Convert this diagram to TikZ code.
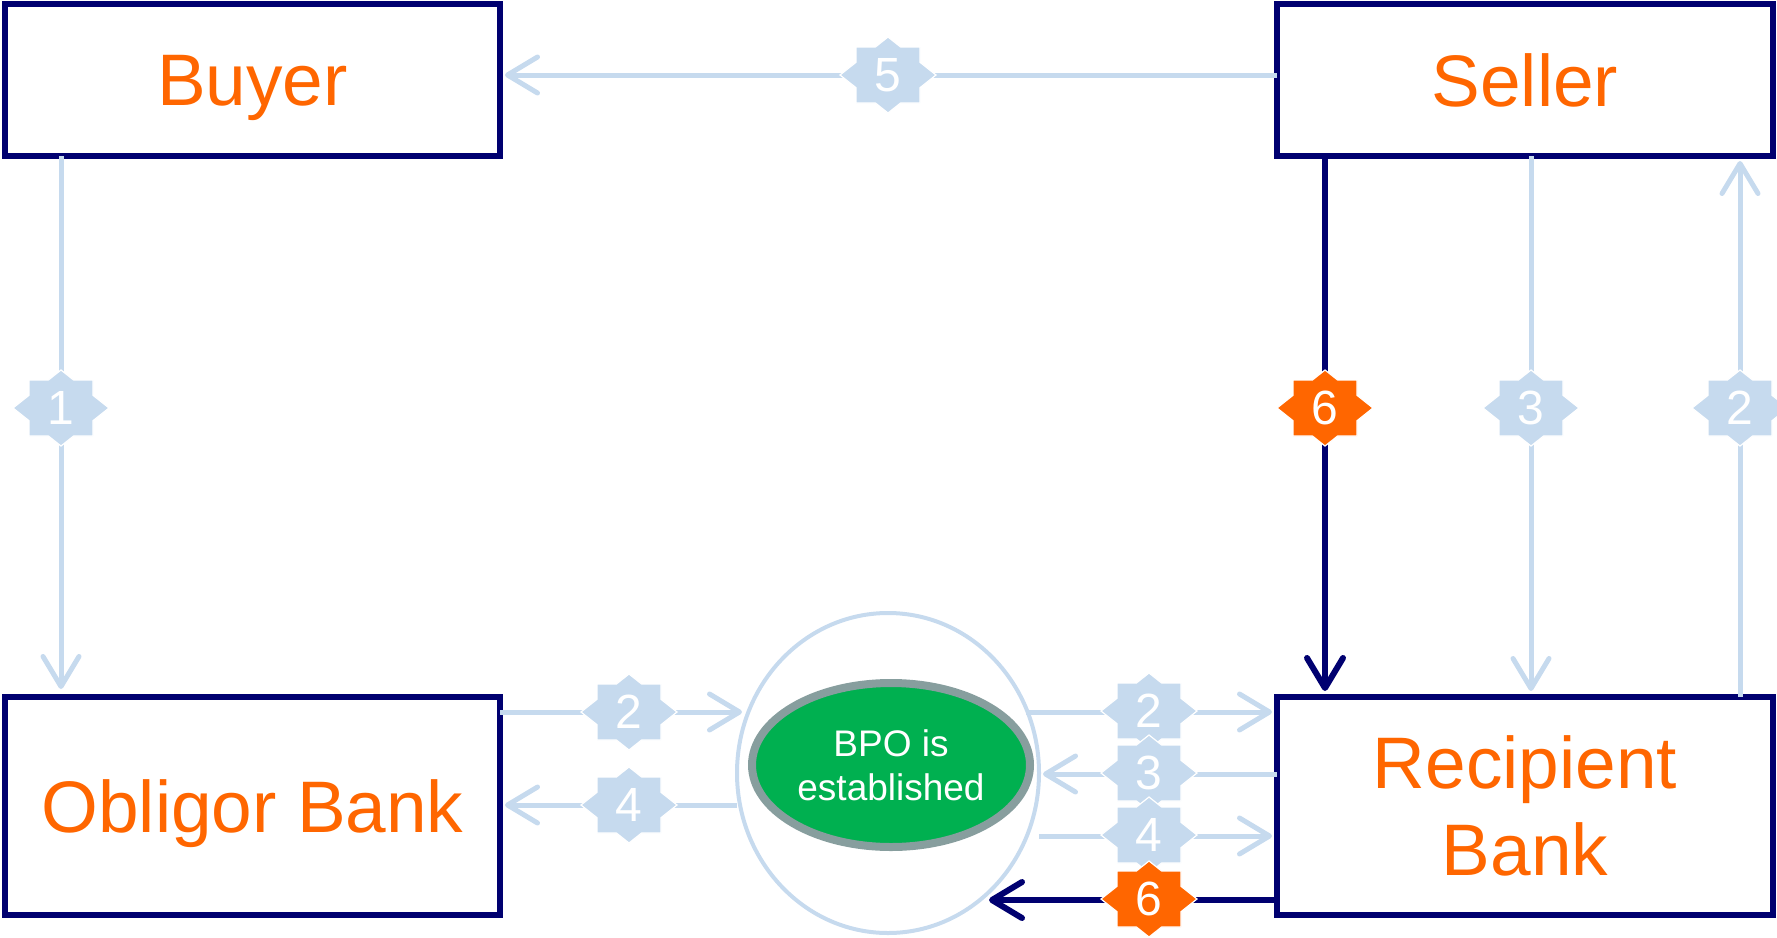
\documentclass[tikz,border=0pt]{standalone}
\usepackage{fontspec}
\setmainfont{Liberation Sans}
\usetikzlibrary{arrows.meta,shapes.geometric}
\definecolor{navy}{RGB}{0,0,112}
\definecolor{lblue}{RGB}{198,218,238}
\definecolor{orng}{RGB}{255,102,0}
\definecolor{bgreen}{RGB}{0,176,80}
\definecolor{ringgray}{RGB}{135,158,158}
\tikzset{
  box/.style={draw=navy, line width=5.5pt, rectangle, outer sep=0pt, inner sep=0pt,
    text=orng, font=\fontsize{73}{87}\selectfont, align=center, text depth=0pt},
  lb/.style={draw=lblue, line width=5pt},
  nv/.style={draw=navy, line width=6pt},
  tipend/.style={-{Straight Barb[length=30pt,width=36pt,round]}},
  badgetext/.style={text=white, font=\fontsize{48}{48}\selectfont, inner sep=0pt},
  starfill/.style={fill=#1, draw=white, line width=1.2pt},
}
\newcommand\mybadge[4]{%
  \path[starfill=#3, shift={(#2)}] (0,-38) -- (12.6,-28) -- (32,-28) -- (32,-12.7) -- (48,0)
    -- (32,12.7) -- (32,28) -- (12.6,28) -- (0,38) -- (-12.6,28) -- (-32,28) -- (-32,12.7)
    -- (-48,0) -- (-32,-12.7) -- (-32,-28) -- (-12.6,-28) -- cycle;
  \node[badgetext] (#1) at (#2) {#4};}
\begin{document}
\begin{tikzpicture}[x=1pt,y=-1pt]
\useasboundingbox (0,0) rectangle (1777,937);
% boxes
\node[box, minimum width=495pt, minimum height=152pt] (buyer) at (252.5,80) {Buyer};
\node[box, minimum width=496pt, minimum height=152pt] (seller) at (1525,80) {Seller};
\node[box, minimum width=495pt, minimum height=218pt] (obligor) at (252.5,806) {Obligor Bank};
\node[box, minimum width=496pt, minimum height=218pt] (recipient) at (1525,806) {Recipient\\Bank};
% ring and BPO
\node[ellipse, draw=lblue, line width=4pt, minimum width=302pt, minimum height=320pt, inner sep=0pt, outer sep=0pt] (ring) at (888,773) {};
\node[ellipse, fill=bgreen, draw=ringgray, line width=8pt, minimum width=278pt, minimum height=164pt, inner sep=0pt,
  text=white, font=\fontsize{37}{44}\selectfont, align=center] (bpo) at (891,765) {BPO is\\established};
% coordinates on the ring
\coordinate (r2in) at (742,712);
\coordinate (r4out) at (737,805);
\coordinate (r2out) at (1026,712);
\coordinate (r3in) at (1043,774);
\coordinate (r4out2) at (1039,836);
\coordinate (r6in) at (989,900);
% connectors
\draw[lb, tipend, shorten >=8pt] (61,0 |- buyer.south) -- (61,0 |- obligor.north);
\draw[lb, tipend, shorten >=5pt] (seller.west |- 0,75) -- (buyer.east |- 0,75);
\draw[lb, tipend, shorten >=6pt] (1531,0 |- seller.south) -- (1531,0 |- recipient.north);
\draw[lb, tipend, shorten >=5pt] (1740,0 |- recipient.north) -- (1740,0 |- seller.south);
\draw[nv, tipend, shorten >=6pt] (1325,0 |- seller.south) -- (1325,0 |- recipient.north);
\draw[lb, tipend] (obligor.east |- r2in) -- (r2in);
\draw[lb, tipend, shorten >=5pt] (r4out) -- (obligor.east |- r4out);
\draw[lb, tipend, shorten >=5pt] (r2out) -- (recipient.west |- r2out);
\draw[lb, tipend] (recipient.west |- r3in) -- (r3in);
\draw[lb, tipend, shorten >=5pt] (r4out2) -- (recipient.west |- r4out2);
\draw[nv, tipend] (recipient.west |- r6in) -- (r6in);
% badges
\mybadge{b5}{888,75}{lblue}{5}
\mybadge{b1}{61,408}{lblue}{1}
\mybadge{b6a}{1325,408}{orng}{6}
\mybadge{b3a}{1531,408}{lblue}{3}
\mybadge{b2a}{1740,408}{lblue}{2}
\mybadge{b2b}{629,712}{lblue}{2}
\mybadge{b4b}{629,805}{lblue}{4}
\mybadge{b2c}{1149,711}{lblue}{2}
\mybadge{b3c}{1149,773}{lblue}{3}
\mybadge{b4c}{1149,835}{lblue}{4}
\mybadge{b6c}{1149,899}{orng}{6}
\end{tikzpicture}
\end{document}
